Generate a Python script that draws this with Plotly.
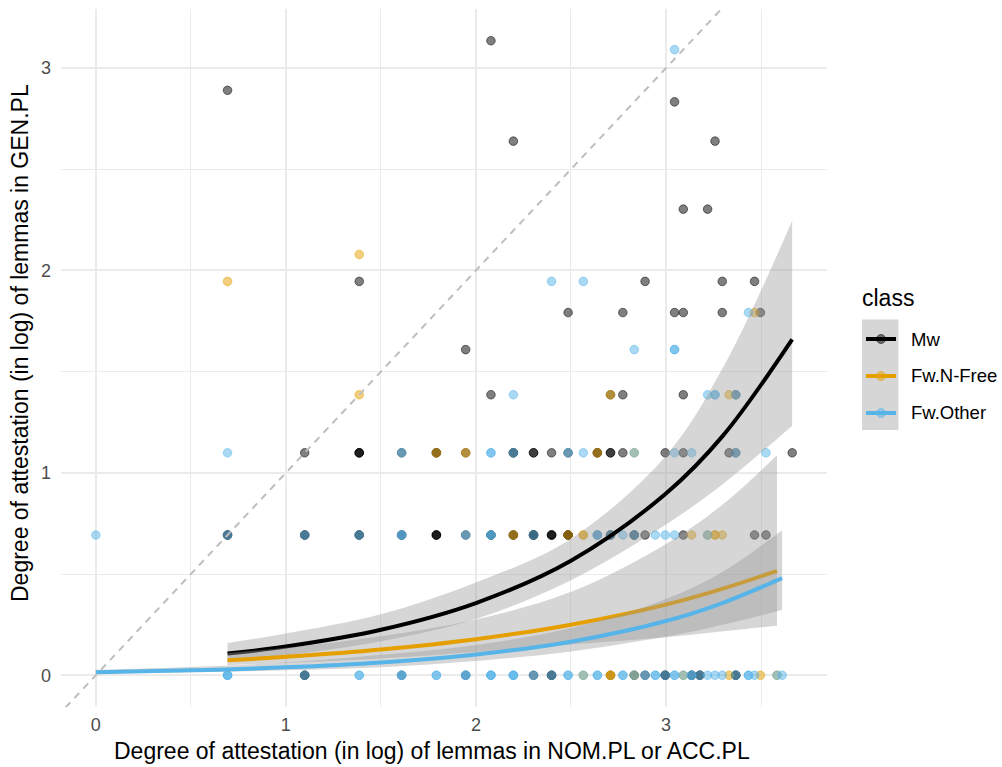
import plotly.graph_objects as go

# ---------------- data (log-scale values) ----------------
classes = ["Mw", "Fw.N-Free", "Fw.Other"]
class_colors = ["#000000", "#E69F00", "#56B4E9"]
point_rgba = ["rgba(0,0,0,0.5)", "rgba(230,159,0,0.5)", "rgba(86,180,233,0.5)"]

mw_x = [2.079, 0.693, 3.045, 2.197, 3.258, 3.091, 3.219,
        1.386, 2.890, 3.296, 3.466,
        2.485, 2.773, 3.045, 3.091, 3.296, 3.497,
        1.946,
        2.079, 2.708, 2.773, 3.091, 3.367,
        1.099, 1.386, 1.386, 1.386, 1.609, 1.792, 1.792, 1.946, 2.197, 2.197, 2.303, 2.303,
        2.398, 2.485, 2.639, 2.639, 2.708, 2.708, 2.773, 2.996, 3.091, 3.332, 3.367, 3.664,
        0.693, 0.693, 1.099, 1.099, 1.386, 1.386, 1.609, 1.609, 1.792, 1.792, 1.792, 1.946,
        2.079, 2.079, 2.197, 2.197, 2.303, 2.303, 2.303, 2.398, 2.398, 2.398, 2.485, 2.485,
        2.485, 2.639, 2.708, 2.708, 2.833, 2.833, 2.890, 3.091, 3.466, 3.526,
        1.099, 1.099, 1.609, 1.946, 2.303, 2.398, 2.398, 2.708, 2.833, 2.890, 2.996, 2.996,
        3.135, 3.135, 3.178, 3.178, 3.367, 3.367]
mw_y = [3.135, 2.890, 2.833, 2.639, 2.639, 2.303, 2.303,
        1.946, 1.946, 1.946, 1.946,
        1.792, 1.792, 1.792, 1.792, 1.792, 1.792,
        1.609,
        1.386, 1.386, 1.386, 1.386, 1.386] + [1.099] * 24 + [0.693] * 34 + [0.0] * 18

fn_x = [1.386, 0.693, 3.466, 1.386, 2.708, 3.332,
        1.792, 1.946, 2.639, 2.833,
        2.197, 2.485, 2.565, 2.565, 3.135, 3.219, 3.258, 3.258, 3.296,
        2.565, 2.708, 2.708, 2.833, 3.091, 3.332, 3.497, 3.584]
fn_y = [2.079, 1.946, 1.792, 1.386, 1.386, 1.386] + [1.099] * 4 + [0.693] * 9 + [0.0] * 8

fo_x = [3.045, 2.398, 2.565, 3.434, 2.833, 3.045, 3.045,
        2.197, 3.219, 3.258, 3.258, 3.367,
        0.693, 1.609, 2.079, 2.079, 2.197, 2.485, 2.565, 2.833, 3.045, 3.135, 3.367, 3.526,
        0.0, 0.693, 1.099, 1.386, 1.609, 1.609, 1.946, 2.079, 2.079, 2.303, 2.639, 2.639,
        2.708, 2.773, 2.833, 2.944, 2.996, 3.045, 3.219,
        0.693, 0.693, 0.693, 1.099, 1.386, 1.386, 1.609, 1.609, 1.792, 1.792, 1.946, 1.946,
        2.079, 2.079, 2.079, 2.197, 2.197, 2.197, 2.303, 2.398, 2.485, 2.485, 2.565, 2.639,
        2.639, 2.773, 2.773, 2.833, 2.890, 2.944, 2.944, 2.996, 3.045, 3.045, 3.091, 3.135,
        3.135, 3.178, 3.219, 3.258, 3.296, 3.367, 3.434, 3.434, 3.466, 3.584, 3.611]
fo_y = [3.091, 1.946, 1.946, 1.792, 1.609, 1.609, 1.609,
        1.386, 1.386, 1.386, 1.386, 1.386] + [1.099] * 12 + [0.693] * 19 + [0.0] * 48

# fitted curves and confidence bands
mw_fit_x = [0.693, 1.0, 1.5, 2.0, 2.5, 3.0, 3.3, 3.664]
mw_fit = [0.107, 0.142, 0.225, 0.357, 0.566, 0.898, 1.184, 1.660]
mw_hi = [0.160, 0.206, 0.301, 0.458, 0.675, 1.085, 1.520, 2.245]
mw_lo = [0.068, 0.098, 0.168, 0.278, 0.470, 0.745, 0.945, 1.233]

fn_fit_x = [0.693, 1.0, 1.5, 2.0, 2.5, 3.0, 3.3, 3.584]
fn_fit = [0.074, 0.091, 0.127, 0.178, 0.250, 0.349, 0.428, 0.516]
fn_hi = [0.110, 0.136, 0.193, 0.276, 0.412, 0.649, 0.845, 1.087]
fn_lo = [0.050, 0.061, 0.083, 0.115, 0.152, 0.188, 0.217, 0.245]

fo_fit_x = [0.0, 0.5, 1.0, 1.5, 2.0, 2.5, 3.0, 3.3, 3.611]
fo_fit = [0.015, 0.0243, 0.0392, 0.0634, 0.1025, 0.166, 0.268, 0.358, 0.480]
fo_hi = [0.027, 0.041, 0.063, 0.1014, 0.150, 0.233, 0.377, 0.513, 0.717]
fo_lo = [0.0082, 0.0144, 0.0244, 0.0396, 0.0701, 0.118, 0.191, 0.250, 0.322]

x_ticks = [0, 1, 2, 3]
y_ticks = [0, 1, 2, 3]
x_title = "Degree of attestation (in log) of lemmas in NOM.PL or ACC.PL"
y_title = "Degree of attestation (in log) of lemmas in GEN.PL"
legend_title = "class"

# ---------------- layout geometry ----------------
W, H = 1002, 767
L, R, T, B = 61, 827, 9, 707  # panel in pixels
PW, PH = R - L, B - T


def px(xp):
    return (xp - L) / PW


def py(yp):
    return (B - yp) / PH


FONT = "Liberation Sans, Arial, Helvetica, sans-serif"
BAND = "rgba(153,153,153,0.4)"

fig = go.Figure()

# points
for xs, ys, name, col in [(mw_x, mw_y, classes[0], point_rgba[0]),
                          (fn_x, fn_y, classes[1], point_rgba[1]),
                          (fo_x, fo_y, classes[2], point_rgba[2])]:
    fig.add_trace(go.Scatter(
        x=xs, y=ys, mode="markers", name=name, showlegend=False,
        marker=dict(size=8.6, color=col, line=dict(width=1, color=col)),
        hoverinfo="x+y+name"))

# smooths: ribbon then line, per group
for fx, fit, lo, hi, col in [(mw_fit_x, mw_fit, mw_lo, mw_hi, class_colors[0]),
                             (fn_fit_x, fn_fit, fn_lo, fn_hi, class_colors[1]),
                             (fo_fit_x, fo_fit, fo_lo, fo_hi, class_colors[2])]:
    fig.add_trace(go.Scatter(x=fx, y=lo, mode="lines", line=dict(width=0, shape="spline"),
                             showlegend=False, hoverinfo="skip"))
    fig.add_trace(go.Scatter(x=fx, y=hi, mode="lines", line=dict(width=0, shape="spline"),
                             fill="tonexty", fillcolor=BAND, showlegend=False, hoverinfo="skip"))
    fig.add_trace(go.Scatter(x=fx, y=fit, mode="lines", line=dict(width=4, color=col, shape="spline"),
                             showlegend=False, hoverinfo="skip"))

shapes = []
# identity reference line y = x
shapes.append(dict(type="line", xref="x", yref="y", x0=-0.3, y0=-0.3, x1=3.5, y1=3.5,
                   line=dict(color="#BEBEBE", width=2, dash="7px,6px"), layer="above"))

# manual legend (ggplot style)
shapes.append(dict(type="rect", xref="paper", yref="paper", x0=px(862), x1=px(898.5),
                   y0=py(430), y1=py(319.5), fillcolor=BAND, line=dict(width=0), layer="above"))
annotations = []
annotations.append(dict(text=legend_title, xref="paper", yref="paper", x=px(860), y=py(298),
                        xanchor="left", yanchor="middle", showarrow=False,
                        font=dict(size=23, color="#000000", family=FONT)))
key_y = [339, 376, 413]
for name, col, prgba, ky in zip(classes, class_colors, point_rgba, key_y):
    shapes.append(dict(type="line", xref="paper", yref="paper", x0=px(866), x1=px(896),
                       y0=py(ky), y1=py(ky), line=dict(color=col, width=4), layer="above"))
    shapes.append(dict(type="circle", xref="paper", yref="paper", x0=px(876.5), x1=px(885.5),
                       y0=py(ky + 4.5), y1=py(ky - 4.5), fillcolor=prgba,
                       line=dict(color=prgba, width=1), layer="above"))
    annotations.append(dict(text=name, xref="paper", yref="paper", x=px(909), y=py(ky),
                            xanchor="left", yanchor="middle", showarrow=False,
                            font=dict(size=18.5, color="#000000", family=FONT)))

# axis titles
annotations.append(dict(text=x_title, xref="paper", yref="paper", x=px(432), y=py(751),
                        xanchor="center", yanchor="middle", showarrow=False,
                        font=dict(size=23, color="#000000", family=FONT)))
annotations.append(dict(text=y_title, xref="paper", yref="paper", x=px(20), y=py(343),
                        xanchor="center", yanchor="middle", showarrow=False, textangle=-90,
                        font=dict(size=23, color="#000000", family=FONT)))

axis_common = dict(showgrid=True, gridcolor="#EBEBEB", gridwidth=1.6, zeroline=False,
                   showline=False, ticks="", tickfont=dict(size=18, color="#4D4D4D", family=FONT),
                   minor=dict(showgrid=True, gridcolor="#EBEBEB", gridwidth=0.9, dtick=0.5))

fig.update_layout(
    width=W, height=H,
    margin=dict(l=L, r=W - R, t=T, b=H - B, autoexpand=False),
    paper_bgcolor="white", plot_bgcolor="white",
    font=dict(family=FONT),
    xaxis=dict(range=[-0.1832, 3.8472], tickvals=x_ticks, ticktext=[str(v) for v in x_ticks],
               automargin=False, ticklabelstandoff=5, **axis_common),
    yaxis=dict(range=[-0.1568, 3.2918], tickvals=y_ticks, ticktext=[str(v) for v in y_ticks],
               automargin=False, ticklabelstandoff=9, **axis_common),
    shapes=shapes, annotations=annotations, showlegend=False,
)

fig.write_html("out.html")
